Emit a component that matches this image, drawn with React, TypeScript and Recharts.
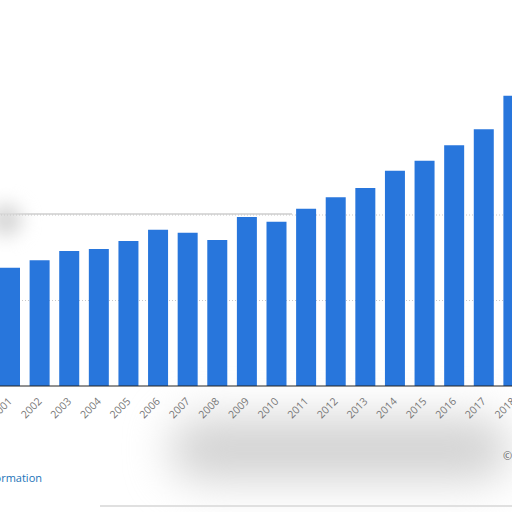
import React from 'react';
import { BarChart, Bar, XAxis, YAxis, CartesianGrid } from 'recharts';

const years = ['2001', '2002', '2003', '2004', '2005', '2006', '2007', '2008', '2009', '2010', '2011', '2012', '2013', '2014', '2015', '2016', '2017', '2018'];
const values = [1384, 1470, 1579, 1602, 1696, 1828, 1793, 1708, 1977, 1922, 2074, 2207, 2316, 2518, 2635, 2815, 3002, 3395];
const gridValues = [1000, 2000];

const data = years.map((year, i) => ({ year, value: values[i] }));

const YearTick = ({ x, y, payload }: any) => (
  <text
    x={x + 3}
    y={y + 8}
    transform={`rotate(-45, ${x + 3}, ${y + 8})`}
    textAnchor="end"
    fontSize={10.5}
    fill="#777"
    fontFamily="'Open Sans', sans-serif"
  >
    {payload.value}
  </text>
);

export default function App() {
  return (
    <div style={{ position: 'absolute', left: 0, top: 0, width: 512, height: 512, overflow: 'hidden', background: '#fff' }}>
      {/* soft grey smudges seen in the reference */}
      <div style={{ position: 'absolute', left: 170, top: 418, width: 340, height: 62, background: '#d2d2d2', filter: 'blur(22px)', borderRadius: 30 }} />
      <div style={{ position: 'absolute', left: -10, top: 204, width: 32, height: 32, background: '#d6d6d6', filter: 'blur(9px)', borderRadius: 16 }} />
      <div style={{ position: 'absolute', left: 100, top: 505, width: 412, height: 2, background: '#e0e0e0' }} />
      <div style={{ position: 'absolute', left: 0, top: 213, width: 292, height: 2, background: '#dadada' }} />
      <div style={{ position: 'absolute', left: -5, top: 0 }}>
        <BarChart
          width={533}
          height={512}
          data={data}
          margin={{ top: 44, right: 0, left: 0, bottom: 66 }}
        >
          <CartesianGrid vertical={false} horizontalValues={gridValues} stroke="#c8c8c8" strokeDasharray="1 2" />
          <XAxis
            dataKey="year"
            height={60}
            interval={0}
            tickLine={false}
            axisLine={{ stroke: '#222', strokeWidth: 1 }}
            tick={<YearTick />}
          />
          <YAxis hide domain={[0, 4000]} />
          <Bar dataKey="value" fill="#2876dc" barSize={20} isAnimationActive={false} />
        </BarChart>
      </div>
      <div
        style={{
          position: 'absolute',
          right: 470,
          top: 470,
          fontFamily: "'Open Sans', sans-serif",
          fontSize: 11,
          color: '#1a73b8',
          whiteSpace: 'nowrap',
        }}
      >
        Additional Information
      </div>
      <div
        style={{
          position: 'absolute',
          left: 503,
          top: 448,
          fontFamily: "'Open Sans', sans-serif",
          fontSize: 11,
          color: '#666',
          whiteSpace: 'nowrap',
        }}
      >
        © Statista 2019
      </div>
    </div>
  );
}
